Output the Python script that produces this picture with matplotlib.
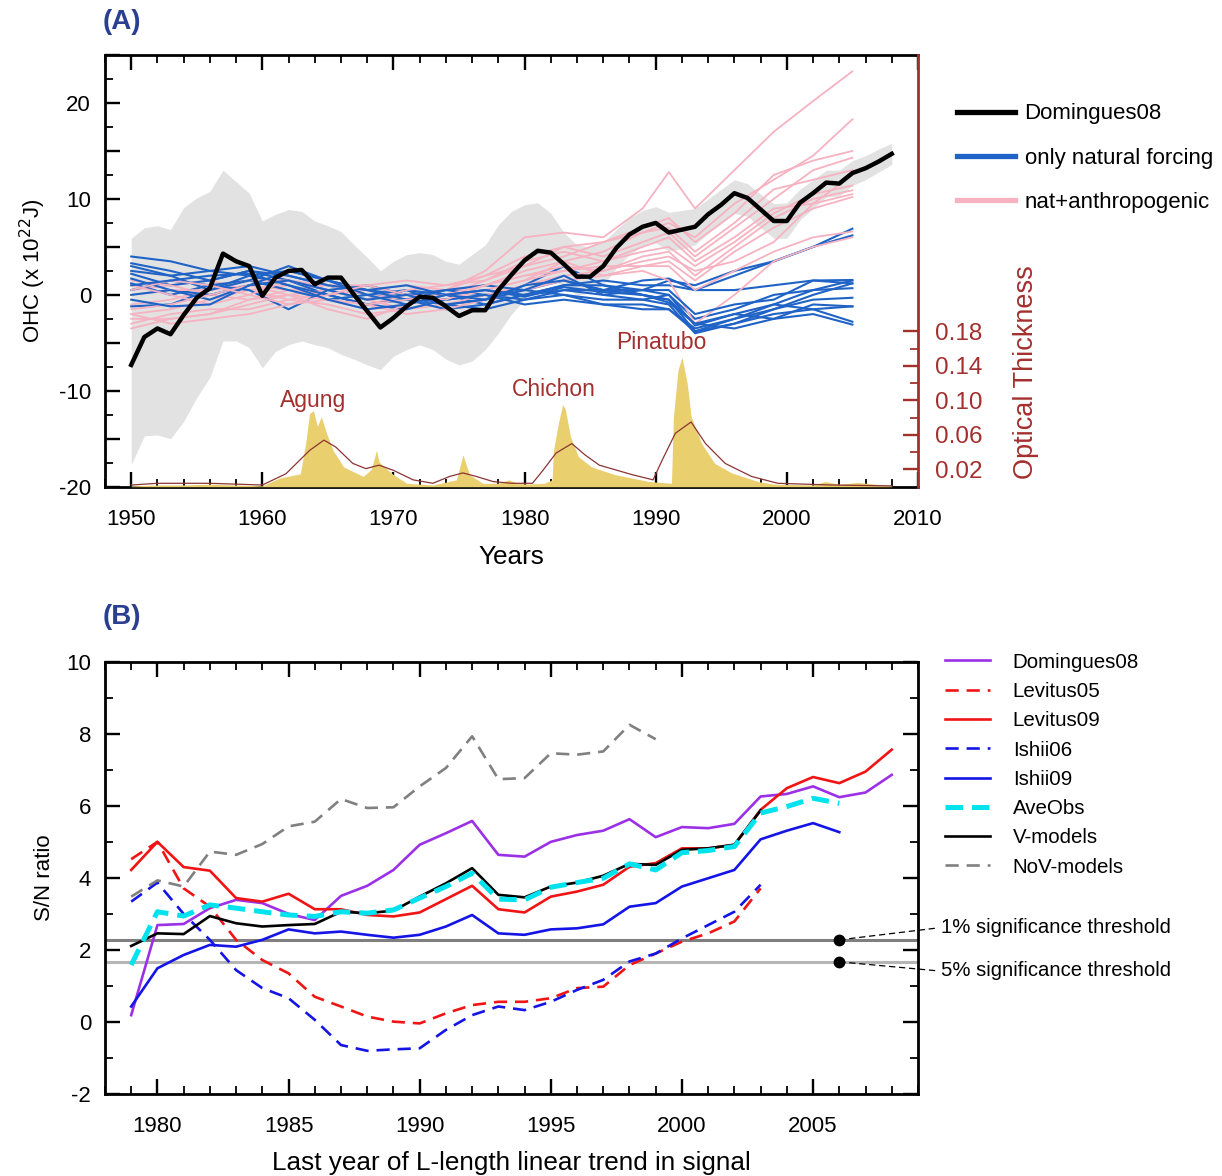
#!/usr/bin/env python3
"""
Ocean heat content: observations vs. model ensembles (A) and
signal-to-noise ratio of linear trends (B).
"""

import matplotlib
matplotlib.use('Agg')
import matplotlib.pyplot as plt
from matplotlib.lines import Line2D
from matplotlib.ticker import MultipleLocator, FuncFormatter, FixedLocator

plt.rcParams['font.family'] = ['Liberation Sans', 'DejaVu Sans']
plt.rcParams['axes.unicode_minus'] = False

# ── Panel A data ──────────────────────────────────────────
dom_years = list(range(1950, 2009))
dom_ohc = [-7.3, -4.4, -3.5, -4.1, -2.1, -0.3, 0.7, 4.3, 3.5, 3.0,
           -0.1, 1.8, 2.5, 2.6, 1.1, 1.8, 1.8, 0.0, -1.7, -3.4,
           -2.4, -1.2, -0.2, -0.3, -1.2, -2.2, -1.6, -1.6, 0.5, 2.1,
           3.6, 4.6, 4.4, 3.2, 1.9, 1.9, 3.0, 4.9, 6.3, 7.1,
           7.5, 6.5, 6.8, 7.1, 8.4, 9.4, 10.6, 10.1, 8.9, 7.7,
           7.7, 9.6, 10.6, 11.7, 11.6, 12.7, 13.2, 13.9, 14.7]
dom_upper = [5.9, 7.0, 7.2, 6.8, 9.1, 10.1, 10.8, 13.0, 11.8, 10.6,
             7.7, 8.4, 8.9, 8.7, 7.7, 7.2, 6.6, 5.2, 3.9, 2.5,
             3.5, 4.2, 4.4, 4.2, 3.5, 3.2, 4.2, 5.2, 7.3, 8.7,
             9.4, 9.6, 8.5, 6.5, 5.2, 5.0, 5.5, 6.8, 8.0, 8.8,
             9.2, 8.6, 8.8, 9.0, 10.0, 11.0, 12.0, 11.6, 10.5, 9.5,
             9.6, 11.0, 12.0, 13.0, 13.0, 14.0, 14.5, 15.2, 15.8]
dom_lower = [-17.7, -14.7, -14.6, -15.0, -13.2, -10.7, -8.6, -4.8, -4.8, -5.5,
             -7.6, -5.9, -5.2, -4.8, -5.2, -5.5, -6.2, -6.7, -7.3, -7.8,
             -6.4, -5.7, -5.2, -5.7, -6.7, -7.3, -6.9, -5.7, -4.0, -2.0,
             -0.5, 1.2, 1.6, 0.9, 0.0, 0.2, 1.0, 2.8, 4.2, 5.1,
             5.4, 4.6, 4.8, 5.2, 6.4, 7.4, 8.5, 8.2, 7.0, 5.9,
             5.9, 7.8, 9.0, 10.2, 10.3, 11.4, 12.0, 12.8, 13.6]

ens_years = [1950, 1953, 1956, 1959, 1962, 1965, 1968, 1971, 1974, 1977,
             1980, 1983, 1986, 1989, 1991, 1993, 1996, 1999, 2002, 2005]

nat_runs = [
    [4.0, 3.5, 2.5, 2.0, 2.5, 1.5, 0.5, 0.0, -0.5, 0.0, 0.5, 1.5, 0.5, 0.5, 0.0, -3.2, -2.0, -1.0, 0.5, 1.5],
    [3.3, 2.5, 1.5, 2.5, 2.0, 1.0, 0.0, -0.5, -1.0, -0.5, 1.0, 3.0, 1.0, 0.0, -0.5, -3.8, -2.5, -1.5, 0.0, 1.2],
    [2.2, 1.0, 1.5, 2.5, 1.5, 0.5, -0.5, 0.5, 0.0, -1.0, 0.0, 1.0, 1.5, 1.0, 1.0, 0.5, 2.0, 3.5, 5.0, 6.9],
    [1.7, 0.5, 0.0, 1.0, 1.5, 0.0, -1.0, -0.5, 0.5, 0.0, -0.5, 0.5, 0.0, 0.5, 1.5, 1.0, 2.5, 3.5, 5.0, 6.2],
    [1.2, 0.0, 1.0, 1.5, 0.5, -0.5, 0.0, 0.5, -1.0, -1.5, -0.5, 0.0, -0.5, -0.5, -1.0, -4.0, -3.0, -2.0, -1.5, -1.2],
    [-1.2, -1.0, 0.5, 2.0, 1.0, 0.0, -1.0, -1.5, -0.5, 0.0, -1.0, -0.5, -1.0, -1.5, -1.5, -3.5, -2.5, -1.0, -1.5, -2.8],
    [0.0, 0.5, -0.5, 1.0, 2.5, 1.5, 0.5, -0.5, -1.5, -1.0, 0.0, 0.5, 0.5, 0.0, -0.5, -3.0, -3.5, -2.5, -2.0, -3.1],
    [0.5, 1.5, 1.0, 0.5, -1.5, 0.5, 1.0, 0.0, 0.5, 1.0, 0.5, 2.0, 0.0, -0.5, 0.0, -2.5, -1.5, 0.0, 0.5, 0.7],
    [3.0, 2.0, 2.5, 3.0, 2.0, 1.0, 0.5, 1.0, 0.0, -0.5, 1.0, 1.5, 0.5, 1.5, 1.7, 0.5, 0.5, 1.0, 1.5, 1.55],
    [-0.5, -1.2, -1.0, 1.0, 1.5, 0.5, -0.5, 0.0, -1.0, -0.5, 0.5, 0.0, -1.0, -1.0, -1.5, -3.8, -3.0, -1.5, -0.5, -0.3],
    [2.5, 2.0, 0.5, 1.5, 3.0, 1.5, 0.0, -1.0, 0.0, 0.5, 0.0, 1.0, 1.0, 0.5, 0.5, -2.0, -1.0, -0.5, 1.5, 1.2],
    [1.0, 1.5, 2.0, 2.2, 1.0, -0.5, -1.5, -1.0, 0.0, 0.5, -0.2, 0.8, 0.3, 0.0, -0.8, -3.0, -2.0, -2.5, -1.0, -1.2],
]

ant_runs = [
    [-1.0, -0.5, 0.5, 1.0, 0.5, 0.0, -1.0, 0.0, 0.5, 2.5, 6.0, 6.5, 6.0, 9.0, 12.8, 9.0, 13.0, 17.0, 20.2, 23.3],
    [0.5, 1.0, 1.5, 0.5, -0.5, 0.0, 0.5, 1.0, 0.5, 1.0, 2.5, 3.5, 4.5, 6.5, 7.5, 6.0, 9.5, 12.0, 14.5, 18.3],
    [-2.0, -1.5, -0.5, 0.5, 1.0, -0.5, -1.5, -1.0, 0.0, 1.5, 3.0, 4.0, 5.5, 7.0, 8.0, 5.5, 8.5, 12.5, 14.0, 15.0],
    [1.5, 1.0, 0.0, -0.5, 0.5, 1.0, 0.0, -0.5, 0.5, 2.0, 4.0, 5.0, 4.0, 5.5, 6.5, 4.0, 7.0, 10.0, 13.0, 14.3],
    [-3.5, -2.5, -2.0, -1.0, 0.0, 0.5, -0.5, -1.5, -0.5, 0.5, 1.5, 2.5, 3.5, 4.5, 5.0, 3.0, 5.5, 8.5, 10.5, 11.4],
    [-3.0, -2.0, -1.5, -1.5, -0.5, -1.0, -2.0, -1.5, -1.0, 0.0, 1.0, 2.0, 2.5, 4.0, 4.5, 2.0, 5.0, 8.0, 10.0, 10.9],
    [0.0, 0.5, 0.5, 1.5, 1.5, 0.5, -0.5, 0.5, 1.0, 1.5, 3.5, 4.5, 3.5, 5.0, 6.0, 3.5, 6.0, 9.0, 9.5, 10.5],
    [-2.5, -2.5, -2.0, -0.5, 0.0, -0.5, -1.0, -2.0, -1.5, -0.5, 0.5, 1.5, 2.0, 3.0, 3.5, 1.5, 4.5, 7.0, 9.0, 10.2],
    [1.0, 0.0, -1.0, 0.0, 1.5, 1.0, 1.0, 0.0, -0.5, 1.0, 2.0, 3.0, 2.5, 3.5, 4.0, 2.5, 3.5, 5.5, 9.5, 12.5],
    [-1.5, -1.0, 0.0, 1.0, 0.0, -1.5, -2.5, -1.0, 0.0, 0.5, 1.5, 3.5, 2.0, 2.5, 1.5, -3.0, 0.0, 3.5, 5.0, 6.0],
    [-2.0, -3.0, -2.5, -2.0, -1.0, -0.5, -1.0, -0.5, 0.0, 1.0, 2.0, 2.5, 3.0, 3.0, 3.0, 0.5, 2.5, 4.5, 6.0, 6.6],
    [0.5, 1.5, 1.0, 0.0, -1.0, 0.0, 1.0, 1.5, 1.0, 2.0, 3.0, 5.0, 5.5, 6.5, 7.0, 4.5, 7.5, 11.0, 12.0, 13.0],
]

# volcanic aerosol optical thickness
aod_years = [1950, 1952, 1954, 1956, 1958, 1960, 1961.3, 1962.9, 1963.3, 1963.6,
             1963.9, 1964.2, 1964.5, 1964.9, 1965.4, 1966.2, 1967.0, 1967.7, 1968.3, 1968.7,
             1968.9, 1969.3, 1970.0, 1971.0, 1973.0, 1974.8, 1975.3, 1975.8, 1976.8, 1978.0,
             1978.8, 1979.5, 1980.1, 1981.5, 1982.1, 1982.2, 1982.6, 1982.9, 1983.1, 1983.5,
             1984.1, 1985.1, 1986.9, 1989.5, 1991.2, 1991.35, 1991.7, 1992.0, 1992.4, 1992.7,
             1993.5, 1994.5, 1995.8, 1997.8, 1999.0, 2002.0, 2002.9, 2004.0, 2005.4, 2008.0]
aod_vals = [0.001, 0.002, 0.002, 0.003, 0.002, 0.001, 0.010, 0.015, 0.050, 0.085,
            0.088, 0.070, 0.081, 0.062, 0.042, 0.023, 0.017, 0.012, 0.020, 0.042,
            0.029, 0.023, 0.014, 0.004, 0.002, 0.008, 0.037, 0.014, 0.004, 0.004,
            0.008, 0.004, 0.003, 0.004, 0.008, 0.042, 0.075, 0.095, 0.090, 0.058,
            0.035, 0.023, 0.014, 0.006, 0.004, 0.081, 0.135, 0.150, 0.120, 0.081,
            0.050, 0.027, 0.016, 0.006, 0.003, 0.002, 0.006, 0.003, 0.005, 0.001]
aod_sm_years = [1950, 1952, 1954, 1956, 1958, 1960, 1961.8, 1963.6, 1964.7, 1965.6,
                1966.9, 1967.9, 1968.9, 1970.0, 1971.5, 1973.0, 1974.3, 1975.3, 1976.3, 1977.6,
                1979.0, 1980.6, 1981.4, 1982.4, 1983.6, 1984.6, 1985.7, 1988.2, 1989.8, 1990.5,
                1991.5, 1992.7, 1993.8, 1995.3, 1997.3, 1999.3, 2003.4, 2008.0]
aod_sm_vals = [0.002, 0.004, 0.004, 0.004, 0.003, 0.002, 0.015, 0.042, 0.054, 0.046,
               0.027, 0.021, 0.025, 0.019, 0.008, 0.004, 0.012, 0.016, 0.012, 0.006,
               0.004, 0.004, 0.019, 0.039, 0.050, 0.037, 0.025, 0.014, 0.008, 0.031,
               0.062, 0.075, 0.050, 0.027, 0.012, 0.004, 0.002, 0.001]

volcano_names = ['Agung', 'Chichon', 'Pinatubo']
volcano_x = [1963.9, 1982.2, 1990.4]
volcano_y = [-11.0, -9.9, -5.0]

# ── Panel B data ──────────────────────────────────────────
sn_start = 1979
sn_domingues08 = [0.19, 2.69, 2.72, 3.16, 3.39, 3.30, 3.00, 2.83, 3.50, 3.78,
                  4.22, 4.92, 5.24, 5.58, 4.64, 4.59, 5.00, 5.19, 5.31, 5.63,
                  5.13, 5.41, 5.38, 5.50, 6.26, 6.33, 6.54, 6.24, 6.37, 6.86]
sn_levitus05 = [4.52, 5.00, 3.71, 3.20, 2.28, 1.72, 1.35, 0.70, 0.43, 0.15,
                0.01, -0.04, 0.24, 0.47, 0.56, 0.56, 0.66, 0.94, 0.98, 1.58,
                1.90, 2.23, 2.46, 2.79, 3.71]
sn_levitus09 = [4.22, 5.00, 4.30, 4.20, 3.44, 3.34, 3.56, 3.13, 3.13, 2.97,
                2.93, 3.04, 3.41, 3.78, 3.13, 3.04, 3.48, 3.62, 3.81, 4.31,
                4.41, 4.82, 4.82, 4.92, 5.89, 6.49, 6.80, 6.63, 6.95, 7.56]
sn_ishii06 = [3.34, 3.87, 3.00, 2.28, 1.44, 0.94, 0.66, 0.06, -0.64, -0.80,
              -0.76, -0.73, -0.22, 0.19, 0.43, 0.33, 0.56, 0.89, 1.17, 1.68,
              1.90, 2.32, 2.69, 3.06, 3.81]
sn_ishii09 = [0.43, 1.49, 1.86, 2.14, 2.09, 2.28, 2.57, 2.46, 2.51, 2.42,
              2.34, 2.42, 2.65, 2.97, 2.46, 2.42, 2.57, 2.60, 2.71, 3.20,
              3.30, 3.76, 3.99, 4.22, 5.07, 5.31, 5.52, 5.27]
sn_aveobs = [1.58, 3.06, 2.94, 3.25, 3.16, 3.06, 2.97, 2.93, 3.06, 3.02,
             3.11, 3.44, 3.76, 4.13, 3.41, 3.39, 3.74, 3.87, 3.99, 4.39,
             4.22, 4.70, 4.76, 4.87, 5.80, 5.98, 6.21, 6.07]
sn_vmodels = [2.11, 2.46, 2.44, 2.94, 2.74, 2.65, 2.69, 2.72, 3.06, 3.02,
              3.09, 3.48, 3.85, 4.27, 3.53, 3.46, 3.76, 3.87, 4.06, 4.39,
              4.36, 4.78, 4.82, 4.92, 5.87]
sn_novmodels = [3.48, 3.93, 3.76, 4.73, 4.64, 4.94, 5.43, 5.56, 6.19, 5.94,
                5.96, 6.54, 7.05, 7.93, 6.74, 6.77, 7.46, 7.42, 7.51, 8.25,
                7.85]

thresh_levels = [2.28, 1.67]
thresh_labels = ['1% significance threshold', '5% significance threshold']
thresh_label_y = [2.61, 1.42]
thresh_mark_year = 2006

# ── Styles ────────────────────────────────────────────────
DARKRED = '#a3302e'
NAVY = '#2a3f92'
BLUE_A = '#1f63c6'
PINK_A = '#f6b2c1'

# (label, data, color, lw, dashes, zorder)
sn_series = [
    ('Domingues08', sn_domingues08, '#9b30e6', 1.9, None, 4),
    ('Levitus05',   sn_levitus05,   '#f01414', 1.9, (5, 3), 4),
    ('Levitus09',   sn_levitus09,   '#f01414', 1.9, None, 4),
    ('Ishii06',     sn_ishii06,     '#1414e6', 1.9, (5, 3), 4),
    ('Ishii09',     sn_ishii09,     '#1414e6', 1.9, None, 4),
    ('AveObs',      sn_aveobs,      '#00e3ee', 3.6, (3.5, 1.8), 6),
    ('V-models',    sn_vmodels,     'black',   1.9, None, 5),
    ('NoV-models',  sn_novmodels,   '#808080', 1.9, (5, 3), 4),
]

TICK_FS = 16
LABEL_FS = 18.8
SPINE_LW = 2.0


def style_box(ax, color='black'):
    for s in ax.spines.values():
        s.set_linewidth(SPINE_LW)
        s.set_color(color)
    ax.tick_params(which='both', direction='in', top=True, width=1.7,
                   labelsize=TICK_FS)
    ax.tick_params(which='major', length=11)
    ax.tick_params(which='minor', length=6, width=1.3)
    ax.tick_params(axis='x', pad=16)
    ax.tick_params(axis='y', pad=10)


fig = plt.figure(figsize=(12.22, 11.76), dpi=100)

# ── Panel A ───────────────────────────────────────────────
axA = fig.add_axes([0.0859, 0.5861, 0.6653, 0.3671])
axA.fill_between(dom_years, dom_lower, dom_upper, color='#e2e2e2', lw=0, zorder=1)
for run_a, run_n in zip(ant_runs, nat_runs):
    axA.plot(ens_years, run_a, color=PINK_A, lw=1.3, zorder=2)
    axA.plot(ens_years, run_n, color=BLUE_A, lw=1.5, zorder=2)
axA.plot(dom_years, dom_ohc, color='black', lw=3.2, zorder=5)

for name, x, y in zip(volcano_names, volcano_x, volcano_y):
    axA.text(x, y, name, color=DARKRED, fontsize=16.5, ha='center', va='center', zorder=6)

axA.set_xlim(1948, 2010)
axA.set_ylim(-20, 25)
axA.xaxis.set_major_locator(MultipleLocator(10))
axA.xaxis.set_minor_locator(MultipleLocator(2))
axA.yaxis.set_major_locator(MultipleLocator(5))
axA.yaxis.set_minor_locator(MultipleLocator(2.5))
axA.yaxis.set_major_formatter(FuncFormatter(lambda v, p: f'{v:.0f}' if v % 10 == 0 else ''))
style_box(axA)
axA.spines['right'].set_visible(False)
axA.tick_params(which='both', right=False)
axA.set_xlabel('Years', fontsize=LABEL_FS, labelpad=11)
axA.set_ylabel(r'OHC (x 10$^{22}$J)', fontsize=16, labelpad=8)

ax2 = axA.twinx()
ax2.fill_between(aod_years, 0, aod_vals, color='#e9cf6d', lw=0, zorder=1)
ax2.plot(aod_sm_years, aod_sm_vals, color='#8c3535', lw=0.9, zorder=2)
ax2.set_ylim(0, 0.5)
ax2.set_xlim(1948, 2010)
for side in ['top', 'bottom', 'left']:
    ax2.spines[side].set_visible(False)
ax2.spines['right'].set_color(DARKRED)
ax2.spines['right'].set_linewidth(SPINE_LW)
ax2.yaxis.set_major_locator(FixedLocator([0.02, 0.06, 0.10, 0.14, 0.18]))
ax2.yaxis.set_minor_locator(FixedLocator([0.04, 0.08, 0.12, 0.16]))
ax2.yaxis.set_major_formatter(FuncFormatter(lambda v, p: f'{v:.2f}'))
ax2.tick_params(axis='y', which='both', direction='in', colors=DARKRED,
                labelcolor=DARKRED, labelsize=17.5, pad=12, width=1.7)
ax2.tick_params(axis='y', which='major', length=11)
ax2.tick_params(axis='y', which='minor', length=6, width=1.3)
fig.text(1026 / 1222, 1 - 372 / 1176, 'Optical Thickness', rotation=90,
         color=DARKRED, fontsize=19.5, ha='center', va='center')

handles_a = [Line2D([], [], color='black', lw=3.8),
             Line2D([], [], color=BLUE_A, lw=3.8),
             Line2D([], [], color=PINK_A, lw=3.8)]
fig.legend(handles_a, ['Domingues08', 'only natural forcing', 'nat+anthropogenic'],
           loc='upper left', bbox_to_anchor=(0.783, 0.912), frameon=False,
           fontsize=16, handlelength=2.6, handletextpad=0.45,
           labelspacing=1.05, borderpad=0, borderaxespad=0)

fig.text(103 / 1222, 1 - 22 / 1176, '(A)', color=NAVY, fontsize=20,
         fontweight='bold', ha='left', va='center')

# ── Panel B ───────────────────────────────────────────────
axB = fig.add_axes([0.0859, 0.0697, 0.6653, 0.3676])
for lvl, c in zip(thresh_levels, ['#7f7f7f', '#b5b5b5']):
    axB.axhline(lvl, color=c, lw=2.2, zorder=1)

handles_b = []
for label, data, color, lw, dashes, z in sn_series:
    yrs = list(range(sn_start, sn_start + len(data)))
    kw = dict(color=color, lw=lw, zorder=z, label=label)
    if dashes:
        kw['dashes'] = dashes
    line, = axB.plot(yrs, data, **kw)
    handles_b.append(line)

for lvl, lab, ly in zip(thresh_levels, thresh_labels, thresh_label_y):
    axB.plot([thresh_mark_year, 2009.75], [lvl, ly], color='black', lw=0.9,
             dashes=(5, 3), clip_on=False, zorder=7)
    axB.plot([thresh_mark_year], [lvl], 'o', color='black', ms=7.5, zorder=8)
    axB.text(2009.88, ly, lab, fontsize=14.6, ha='left', va='center')

axB.set_xlim(1978, 2009)
axB.set_ylim(-2, 10)
axB.xaxis.set_major_locator(MultipleLocator(5))
axB.xaxis.set_minor_locator(MultipleLocator(1))
axB.yaxis.set_major_locator(MultipleLocator(2))
axB.yaxis.set_minor_locator(MultipleLocator(1))
style_box(axB)
axB.tick_params(which='both', right=True)
axB.set_xlabel('Last year of L-length linear trend in signal', fontsize=LABEL_FS, labelpad=10)
axB.set_ylabel('S/N ratio', fontsize=16, labelpad=8)

axB.legend(handles=handles_b, loc='upper left', bbox_to_anchor=(0.7733, 0.4450),
           bbox_transform=fig.transFigure, frameon=False, fontsize=14.8,
           handlelength=2.2, handletextpad=1.1, labelspacing=0.5,
           borderpad=0, borderaxespad=0)

fig.text(103 / 1222, 1 - 617 / 1176, '(B)', color=NAVY, fontsize=20,
         fontweight='bold', ha='left', va='center')

fig.savefig('out.png', dpi=100)
